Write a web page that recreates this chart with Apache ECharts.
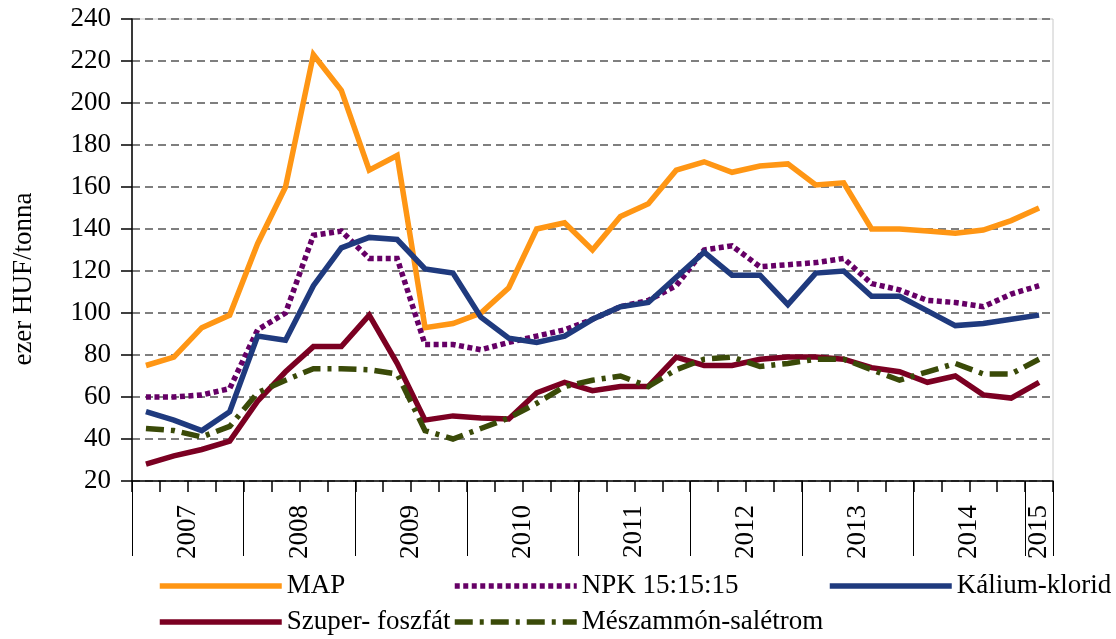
<!DOCTYPE html>
<html><head><meta charset="utf-8">
<script src="https://cdn.jsdelivr.net/npm/echarts@6/dist/echarts.min.js"></script>
<style>html,body{margin:0;padding:0;background:#fff}#c{width:1116px;height:639px}</style>
</head><body><div id="c"></div>
<script>
// ---- data ----
const years = ['2007','2008','2009','2010','2011','2012','2013','2014','2015'];
const quarterNames = ['I','II','III','IV'];
const quarters = [];
years.forEach(y => quarterNames.forEach(q => { if (quarters.length < 33) quarters.push(y + ' ' + q); }));
const yearTickPositions = [0,4,8,12,16,20,24,28,32,33];
const yearLabelPositions = [2,6,10,14,18,22,26,30,32.5];

const seriesNames = ['MAP','NPK 15:15:15','Kálium-klorid','Szuper- foszfát','Mészammón-salétrom'];
const MAP = [75,79,93,99,133,160,223,206,168,175,93,95,100,112,140,143,130,146,152,168,172,167,170,171,161,162,140,140,139,138,139.5,144,150];
const NPK = [60,60,61,64,92,100,137,139,126,126,85,85,82.5,86,89,92,97,103,106,113,130,132,122,123,124,126,114,111,106,105,103,109,113];
const KCl = [53,49,44,53,89,87,113,131,136,135,121,119,98,88,86,89,97,103,105,117,129,118,118,104,119,120,108,108,101,94,95,97,99];
const SZUPER = [28,32,35,39,58,72,84,84,99,76,49,51,50,49.5,62,67,63,65,65,79,75,75,78,79,79,78,74,72,67,70,61,59.5,67];
const MESZ = [45,44,41,46,62,68,73.5,73.5,73,71,44,40,45,50,57,65,68,70,65,73,78,79,74.5,76,78,78,73,68,72,76,71,71,78];

const colors = ['#FF9614','#660066','#1F3A7E','#7B0022','#3A4A08'];
const dashes = ['solid', [5, 3.5], 'solid', 'solid', [18, 7, 4, 7]];
const FONT = '"Liberation Serif", "Times New Roman", serif';
const FS = 27;
const LW = 5.5;

const chart = echarts.init(document.getElementById('c'));
const mk = (i, data) => ({
  name: seriesNames[i], type: 'line', data, symbol: 'none', xAxisIndex: 0, yAxisIndex: 0,
  lineStyle: { color: colors[i], width: LW, type: dashes[i], cap: 'butt', join: 'miter' },
  itemStyle: { color: colors[i] }
});
const legendItem = (i, left, top) => ({
  orient: 'horizontal', left, top, itemWidth: 122, itemHeight: 30, padding: 0,
  data: [seriesNames[i]],
  itemStyle: { opacity: 0 },
  lineStyle: { width: LW, type: dashes[i], color: colors[i], cap: 'butt', opacity: 1 },
  textStyle: { fontSize: FS, fontFamily: FONT, color: '#000', lineHeight: 30 }
});
chart.setOption({
  animation: false,
  grid: { left: 132, right: 63, top: 19, bottom: 158, show: true, borderColor: '#c8c8c8', borderWidth: 1 },
  xAxis: [
    { type: 'category', data: quarters, boundaryGap: true,
      axisLine: { lineStyle: { color: '#000', width: 1.5 } },
      axisTick: { show: true, interval: 0, length: 11, lineStyle: { color: '#000', width: 1.5 } },
      axisLabel: { show: false }, splitLine: { show: false } },
    { type: 'value', min: 0, max: 33, position: 'bottom',
      axisLine: { show: false },
      axisTick: { show: true, customValues: yearTickPositions, length: 75, lineStyle: { color: '#000', width: 1 } },
      axisLabel: { show: true, customValues: yearLabelPositions, rotate: 90, margin: 24,
        fontSize: FS, fontFamily: FONT, color: '#000',
        formatter: v => years[Math.floor(v / 4)] },
      splitLine: { show: false } }
  ],
  yAxis: { type: 'value', min: 20, max: 240, interval: 20,
    axisLine: { show: true, lineStyle: { color: '#000', width: 1.5 } },
    axisTick: { show: true, length: 11, lineStyle: { color: '#000', width: 1.5 } },
    axisLabel: { fontSize: FS, fontFamily: FONT, color: '#000', margin: 21 },
    splitLine: { show: true, lineStyle: { color: '#7f7f7f', width: 2, type: [8, 5] } } },
  graphic: [{ type: 'text', x: 24, y: 279, rotation: Math.PI / 2,
    style: { text: 'ezer HUF/tonna', fontSize: FS, fontFamily: FONT, fill: '#000', align: 'center', verticalAlign: 'middle' } }],
  legend: [
    legendItem(0, 157, 571),
    legendItem(1, 452, 571),
    legendItem(2, 827, 571),
    legendItem(3, 157, 607),
    legendItem(4, 452, 607)
  ],
  series: [mk(0, MAP), mk(1, NPK), mk(2, KCl), mk(3, SZUPER), mk(4, MESZ)]
});
</script></body></html>
